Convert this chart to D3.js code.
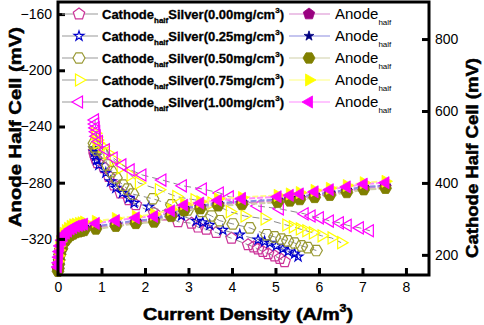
<!DOCTYPE html>
<html>
<head>
<meta charset="utf-8">
<script src="https://cdn.jsdelivr.net/npm/d3@7"></script>
<style>
  body { margin: 0; background: #fff; }
  svg { font-family: "Liberation Sans", Arial, sans-serif; }
  .tick text { font-size: 14px; fill: #000; }
  .tick line { stroke: #000; stroke-width: 3; }
  .heavy { font-weight: bold; stroke: #000; stroke-width: 0.5; }
</style>
</head>
<body>
<svg width="484" height="325"></svg>
<script>
// ---- data ----
const loadings = ['0.00', '0.25', '0.50', '0.75', '1.00'];

// cathode half cell (right axis, mV)
const cath000X = [0.83, 0.84, 0.87, 0.91, 1.06, 1.17, 1.29, 1.44, 1.63, 1.79, 2.21, 2.48, 2.76, 3.07, 3.22, 3.41, 3.64, 3.99, 4.37, 4.50, 4.60, 4.71, 4.83, 4.98, 5.10, 5.21];
const cath000Y = [487, 478, 467, 456, 442, 418, 394, 372, 353, 339, 316, 311, 292, 288, 277, 271, 262, 246, 228, 222, 216, 209, 203, 197, 190, 181];
const cath025X = [0.83, 0.84, 0.87, 0.89, 0.94, 1.10, 1.21, 1.33, 1.48, 1.63, 1.75, 2.09, 2.84, 3.18, 3.33, 3.49, 3.79, 4.18, 4.60, 4.75, 4.87, 5.02, 5.17, 5.29, 5.44, 5.52];
const cath025Y = [496, 486, 475, 464, 450, 428, 404, 386, 372, 358, 344, 334, 309, 294, 290, 283, 269, 256, 242, 237, 233, 225, 217, 209, 203, 195];
const cath050X = [0.83, 0.84, 0.89, 1.03, 1.14, 1.23, 1.34, 1.49, 1.60, 1.72, 2.18, 2.61, 2.98, 3.30, 3.53, 3.72, 4.02, 4.41, 4.80, 4.98, 5.14, 5.28, 5.44, 5.60, 5.74, 5.94];
const cath050Y = [510, 500, 492, 483, 450, 431, 414, 394, 383, 369, 356, 339, 325, 321, 308, 295, 286, 275, 256, 250, 244, 239, 233, 225, 220, 212];
const cath075X = [0.85, 0.87, 0.89, 0.91, 1.02, 1.14, 1.28, 1.44, 1.67, 1.86, 2.32, 2.72, 3.14, 3.53, 3.95, 4.29, 4.75, 5.25, 5.40, 5.56, 5.71, 5.86, 6.06, 6.29, 6.51];
const cath075Y = [538, 528, 519, 511, 501, 483, 464, 442, 422, 400, 381, 362, 353, 344, 320, 308, 300, 283, 278, 272, 267, 261, 253, 247, 234];
const cath100X = [0.85, 0.855, 0.867, 0.878, 0.89, 0.94, 1.10, 1.28, 1.48, 1.67, 1.94, 2.40, 2.87, 3.33, 3.72, 3.95, 4.22, 4.59, 5.10, 5.67, 5.83, 6.02, 6.25, 6.48, 6.66, 6.94, 7.17];
const cath100Y = [575, 564, 553, 542, 530, 515, 492, 469, 450, 436, 422, 408, 392, 383, 372, 361, 356, 336, 328, 314, 308, 303, 294, 289, 282, 275, 267];

// anode half cell (left axis, mV)
const anodeX = [0, 0.01, 0.02, 0.03, 0.05, 0.09, 0.13, 0.18, 0.23, 0.29, 0.35, 0.41, 0.48, 0.54, 0.6, 0.87, 1.33, 1.79, 2.21, 2.6, 2.9, 3.27, 3.68, 4.23, 5.05, 5.33, 5.56, 5.9, 6.25, 6.64, 7.03, 7.53];
const anode000 = [-342, -339, -336, -332, -328, -324, -321, -319, -317.5, -316, -315, -314, -313.5, -313, -312.5, -312, -310, -308, -307, -303, -299, -297.5, -295.5, -294.5, -293, -292, -291, -289.5, -288, -286, -284, -283];
const anode025 = [-341, -338, -335, -331, -327, -323, -320, -318, -316.5, -315, -314, -313, -312.5, -312, -311.5, -311, -309, -307, -306, -302, -298, -296.5, -294.5, -293.5, -292, -291, -290, -288.5, -287, -285, -283, -282];
const anode050 = [-343, -341, -338, -335, -331, -327, -323, -321, -319, -317.5, -316.5, -315.5, -315, -314.5, -314, -313, -311, -309, -308, -304, -300, -298.5, -296.5, -295.5, -294, -293, -292, -290.5, -289, -287, -285, -284];
const anode075 = [-336, -332, -328, -325, -322, -319, -316, -314, -312.5, -311, -310, -309.5, -309, -308.5, -308, -307.5, -305.5, -304, -302.5, -299, -295, -293.5, -291.5, -290.5, -289, -288, -287, -285.5, -284, -282, -280, -279];
const anode100 = [-340, -337, -333, -329, -325, -321, -318, -316, -314.5, -313, -312, -311, -310.5, -310, -309.5, -309, -307, -305, -304, -300, -296, -294.5, -292.5, -291.5, -290, -289, -288, -286.5, -285, -283, -281, -280];

const xTicks = [0, 1, 2, 3, 4, 5, 6, 7, 8];
const leftTicks = [-320, -280, -240, -200, -160];
const rightTicks = [200, 400, 600, 800];

// ---- layout ----
const svg = d3.select('svg');
const plot = { left: 58, right: 429, top: 2, bottom: 275 };

const xScale = d3.scaleLinear().domain([0, 8.53]).range([plot.left, plot.right]);
const yLeft = d3.scaleLinear().domain([-345.7, -151.4]).range([plot.bottom, plot.top]);
const yRight = d3.scaleLinear().domain([144, 903]).range([plot.bottom, plot.top]);

// symbol paths
const poly = (n, r, rot) => {
    const pts = d3.range(n).map(i => {
        const a = rot + i * 2 * Math.PI / n;
        return [r * Math.cos(a), r * Math.sin(a)];
    });
    return 'M' + pts.map(p => p.join(',')).join('L') + 'Z';
};
const shapes = {
    pentagon: poly(5, 6, -Math.PI / 2),
    star: d3.symbol(d3.symbolStar, 30)(),
    hexagon: poly(6, 6, 0),
    right: poly(3, 7, 0),
    left: poly(3, 7, Math.PI)
};

const series = [
    { shape: 'pentagon', cColor: '#CC3399', aColor: '#990080', aLine: '#D98AD0', cx: cath000X, cy: cath000Y, ay: anode000 },
    { shape: 'star', cColor: '#0000CC', aColor: '#000080', aLine: '#8C8CE0', cx: cath025X, cy: cath025Y, ay: anode025 },
    { shape: 'hexagon', cColor: '#999933', aColor: '#808000', aLine: '#CFCFA8', cx: cath050X, cy: cath050Y, ay: anode050 },
    { shape: 'right', cColor: '#FFFF00', aColor: '#FFFF00', aLine: '#FFFF80', cx: cath075X, cy: cath075Y, ay: anode075 },
    { shape: 'left', cColor: '#FF00FF', aColor: '#FF00FF', aLine: '#FF8CFF', cx: cath100X, cy: cath100Y, ay: anode100 }
];

const g = svg.append('g');

// cathode series: dashed grey lines, open markers
series.forEach(s => {
    const pts = s.cx.map((x, i) => [xScale(x), yRight(s.cy[i])]);
    g.append('path')
        .attr('d', d3.line()(pts))
        .attr('fill', 'none')
        .attr('stroke', '#8a8a8a')
        .attr('stroke-width', 1)
        .attr('stroke-dasharray', '7,4');
    g.selectAll(null).data(pts)
        .enter().append('path')
            .attr('d', shapes[s.shape])
            .attr('transform', d => `translate(${d[0]},${d[1]})`)
            .attr('fill', 'none')
            .attr('stroke', s.cColor)
            .attr('stroke-width', 1.2);
});

// anode series: light coloured lines, filled markers
series.forEach(s => {
    const pts = anodeX.map((x, i) => [xScale(x), yLeft(s.ay[i])]);
    g.append('path')
        .attr('d', d3.line()(pts))
        .attr('fill', 'none')
        .attr('stroke', s.aLine)
        .attr('stroke-width', 2)
        .attr('stroke-dasharray', '6,2');
});
series.forEach(s => {
    const pts = anodeX.map((x, i) => [xScale(x), yLeft(s.ay[i])]);
    g.selectAll(null).data(pts)
        .enter().append('path')
            .attr('d', shapes[s.shape])
            .attr('transform', d => `translate(${d[0]},${d[1]})`)
            .attr('fill', s.aColor)
            .attr('stroke', s.aColor)
            .attr('stroke-width', 0.8);
});

// axes (ticks pointing inward)
const xAxisG = svg.append('g')
    .attr('transform', `translate(0,${plot.bottom})`)
    .call(d3.axisBottom(xScale).tickValues(xTicks).tickFormat(d3.format('d'))
        .tickSizeInner(-7).tickSizeOuter(0).tickPadding(7));
xAxisG.select('.domain').remove();
xAxisG.selectAll('.tick').filter(d => d === 0).select('line').remove();

const yLeftG = svg.append('g')
    .attr('transform', `translate(${plot.left},0)`)
    .call(d3.axisLeft(yLeft).tickValues(leftTicks)
        .tickSizeInner(-7).tickSizeOuter(0).tickPadding(6));
yLeftG.select('.domain').remove();

const yRightG = svg.append('g')
    .attr('transform', `translate(${plot.right},0)`)
    .call(d3.axisRight(yRight).tickValues(rightTicks)
        .tickSizeInner(-7).tickSizeOuter(0).tickPadding(6));
yRightG.select('.domain').remove();

svg.append('rect')
    .attr('x', plot.left).attr('y', plot.top)
    .attr('width', plot.right - plot.left)
    .attr('height', plot.bottom - plot.top)
    .attr('fill', 'none')
    .attr('stroke', '#000')
    .attr('stroke-width', 3);

// axis titles
svg.append('text')
    .attr('class', 'heavy')
    .attr('transform', 'translate(21,127) rotate(-90)')
    .attr('text-anchor', 'middle')
    .attr('font-size', 17)
    .attr('textLength', 200).attr('lengthAdjust', 'spacingAndGlyphs')
    .text('Anode Half Cell (mV)');

svg.append('text')
    .attr('class', 'heavy')
    .attr('transform', 'translate(478,158) rotate(-90)')
    .attr('text-anchor', 'middle')
    .attr('font-size', 16)
    .attr('textLength', 200).attr('lengthAdjust', 'spacingAndGlyphs')
    .text('Cathode Half Cell (mV)');

const xTitle = svg.append('text')
    .attr('class', 'heavy')
    .attr('x', 143).attr('y', 320)
    .attr('font-size', 16)
    .attr('textLength', 210).attr('lengthAdjust', 'spacingAndGlyphs');
xTitle.append('tspan').text('Current Density (A/m');
xTitle.append('tspan').attr('font-size', 10).attr('dy', -8).text('3');
xTitle.append('tspan').attr('dy', 8).text(')');

// legend
const legRows = [14, 36, 58, 80, 102];
series.forEach((s, i) => {
    const y = legRows[i];
    const lg = svg.append('g');
    lg.append('line')
        .attr('x1', 62).attr('x2', 98).attr('y1', y).attr('y2', y)
        .attr('stroke', '#999').attr('stroke-width', 1);
    lg.append('path')
        .attr('d', shapes[s.shape])
        .attr('transform', `translate(79,${y})`)
        .attr('fill', '#fff').attr('stroke', s.cColor).attr('stroke-width', 1.2);
    const t = lg.append('text')
        .attr('x', 102).attr('y', y + 5)
        .attr('font-size', 13).attr('font-weight', 'bold')
        .attr('stroke', '#000').attr('stroke-width', 0.3);
    t.append('tspan').text('Cathode');
    t.append('tspan').attr('font-size', 8).attr('dy', 4).text('half');
    t.append('tspan').attr('dy', -4).text(`Silver(${loadings[i]}mg/cm`);
    t.append('tspan').attr('font-size', 8).attr('dy', -6).text('3');
    t.append('tspan').attr('dy', 6).text(')');

    lg.append('line')
        .attr('x1', 289).attr('x2', 330).attr('y1', y).attr('y2', y)
        .attr('stroke', s.aLine).attr('stroke-width', 1.2);
    lg.append('path')
        .attr('d', shapes[s.shape])
        .attr('transform', `translate(309,${y})`)
        .attr('fill', s.aColor).attr('stroke', s.aColor).attr('stroke-width', 0.8);
    const a = lg.append('text')
        .attr('x', 335).attr('y', y + 5)
        .attr('font-size', 15);
    a.append('tspan').text('Anode');
    a.append('tspan').attr('font-size', 8).attr('dy', 6).text('half');
});
</script>
</body>
</html>
